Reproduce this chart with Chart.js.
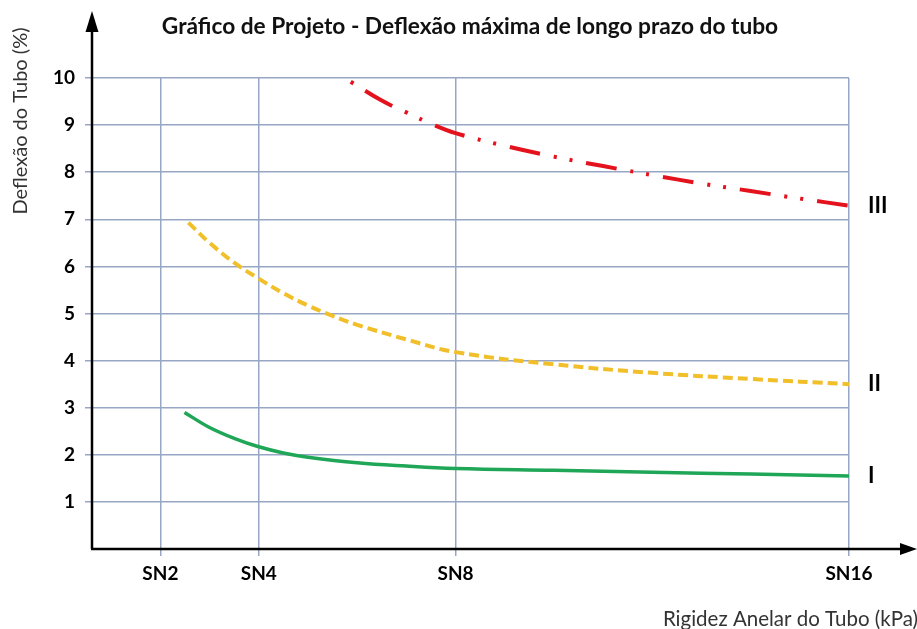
<!DOCTYPE html>
<html>
<head>
<meta charset="utf-8">
<script src="https://cdn.jsdelivr.net/npm/chart.js@4"></script>
<style>
  html, body { margin: 0; padding: 0; background: #fff; }
  #wrap { width: 917px; height: 629px; position: relative; }
</style>
</head>
<body>
<div id="wrap"><canvas id="chart"></canvas></div>
<script>
// eixo X: rigidez (SN), eixo Y: deflexão (%)
const snTicks = [2, 4, 8, 16];
const snLabels = ["SN2", "SN4", "SN8", "SN16"];
const yTicks = [1, 2, 3, 4, 5, 6, 7, 8, 9, 10];

// curva I (verde)
const curveI_sn = [2.49, 3, 3.5, 4, 4.5, 5, 6, 7, 8, 10, 12, 14, 16];
const curveI_def = [2.9, 2.58, 2.35, 2.17, 2.04, 1.95, 1.83, 1.76, 1.71, 1.67, 1.63, 1.59, 1.55];

// curva II (amarela)
const curveII_sn = [2.57, 3, 3.5, 4, 4.5, 5, 5.5, 6, 7, 8, 10, 12, 14, 16];
const curveII_def = [6.93, 6.5, 6.08, 5.74, 5.43, 5.17, 4.95, 4.76, 4.45, 4.18, 3.92, 3.74, 3.61, 3.5];

// curva III (vermelha)
const curveIII_sn = [5.87, 6.5, 7, 7.5, 8, 9, 10, 11, 12, 13, 14, 15, 16];
const curveIII_def = [9.92, 9.52, 9.27, 9.03, 8.83, 8.56, 8.33, 8.13, 7.94, 7.76, 7.6, 7.44, 7.29];

const curveNames = ["I", "II", "III"];

const toPoints = (xs, ys) => xs.map((x, i) => ({ x, y: ys[i] }));

// ▼ eixos com setas + textos
const axesAndText = {
  id: "axesAndText",
  afterDraw(chart) {
    const { ctx, chartArea, scales } = chart;
    const x0 = chartArea.left;
    const y0 = chartArea.bottom;
    ctx.save();
    ctx.strokeStyle = "#000";
    ctx.fillStyle = "#000";
    ctx.lineWidth = 2.5;
    // eixo Y
    ctx.beginPath();
    ctx.moveTo(x0, y0);
    ctx.lineTo(x0, 28);
    ctx.stroke();
    ctx.beginPath();
    ctx.moveTo(x0, 11);
    ctx.lineTo(x0 - 6.5, 32);
    ctx.lineTo(x0 + 6.5, 32);
    ctx.closePath();
    ctx.fill();
    // eixo X
    ctx.beginPath();
    ctx.moveTo(x0 - 1, y0);
    ctx.lineTo(903, y0);
    ctx.stroke();
    ctx.beginPath();
    ctx.moveTo(917, y0);
    ctx.lineTo(900, y0 - 6);
    ctx.lineTo(900, y0 + 6);
    ctx.closePath();
    ctx.fill();

    // valores do eixo Y
    ctx.font = "bold 19px Lato";
    ctx.textAlign = "right";
    ctx.textBaseline = "middle";
    yTicks.forEach((v) => {
      ctx.fillText(String(v), x0 - 17, scales.y.getPixelForValue(v));
    });

    // título
    ctx.fillStyle = "#111";
    ctx.font = "bold 22.7px Lato";
    ctx.textAlign = "center";
    ctx.fillText("Gráfico de Projeto - Deflexão máxima de longo prazo do tubo", 470, 27);

    // título do eixo X
    ctx.fillStyle = "#333";
    ctx.font = "20.5px Lato";
    ctx.textAlign = "right";
    ctx.textBaseline = "alphabetic";
    ctx.fillText("Rigidez Anelar do Tubo (kPa)", 918, 626);

    // título do eixo Y
    ctx.save();
    ctx.font = "20px Lato";
    ctx.translate(21, 121);
    ctx.rotate(-Math.PI / 2);
    ctx.textAlign = "center";
    ctx.textBaseline = "middle";
    ctx.fillText("Deflexão do Tubo (%)", 0, 0);
    ctx.restore();

    // rótulos I, II, III no fim das curvas
    ctx.fillStyle = "#000";
    ctx.font = "bold 22px Lato";
    ctx.textAlign = "left";
    ctx.textBaseline = "middle";
    chart.data.datasets.forEach((ds, i) => {
      const pts = chart.getDatasetMeta(i).data;
      const last = pts[pts.length - 1];
      ctx.fillText(curveNames[i], last.x + 19, last.y);
    });
    ctx.restore();
  },
};

const gridColor = "#97a6c5";

new Chart(document.getElementById("chart"), {
  type: "line",
  data: {
    datasets: [
      {
        label: "I",
        data: toPoints(curveI_sn, curveI_def),
        borderColor: "#20a657",
        borderWidth: 3.5,
        tension: 0.4,
        pointRadius: 0,
        fill: false,
      },
      {
        label: "II",
        data: toPoints(curveII_sn, curveII_def),
        borderColor: "#f1bf2a",
        borderWidth: 4,
        borderDash: [10, 5],
        borderCapStyle: "butt",
        tension: 0.4,
        pointRadius: 0,
        fill: false,
      },
      {
        label: "III",
        data: toPoints(curveIII_sn, curveIII_def),
        borderColor: "#e3121d",
        borderWidth: 4,
        borderDash: [31, 14, 3, 13, 3, 14],
        borderDashOffset: 61,
        borderCapStyle: "butt",
        tension: 0.4,
        pointRadius: 0,
        fill: false,
      },
    ],
  },
  options: {
    responsive: true,
    maintainAspectRatio: false,
    animation: false,
    layout: { padding: { top: 78, right: 68, left: 0, bottom: 0 } },
    plugins: {
      legend: { display: false },
      tooltip: { enabled: false },
    },
    scales: {
      x: {
        type: "linear",
        min: 0.61,
        max: 16,
        afterBuildTicks(scale) {
          scale.ticks = snTicks.map((v) => ({ value: v }));
        },
        afterFit(scale) {
          scale.height = 80;
        },
        border: { display: false },
        grid: { color: gridColor, lineWidth: 1.5, tickLength: 7, drawTicks: true },
        ticks: {
          color: "#000",
          font: { family: "Lato", size: 19, weight: "bold" },
          padding: 6,
          maxRotation: 0,
          callback: (v) => snLabels[snTicks.indexOf(v)],
        },
      },
      y: {
        min: 0,
        max: 10,
        afterBuildTicks(scale) {
          scale.ticks = yTicks.map((v) => ({ value: v }));
        },
        afterFit(scale) {
          scale.width = 92;
        },
        border: { display: false },
        grid: { color: gridColor, lineWidth: 1.5, tickLength: 7, drawTicks: true },
        ticks: { display: false },
      },
    },
  },
  plugins: [axesAndText],
});
</script>
</body>
</html>
